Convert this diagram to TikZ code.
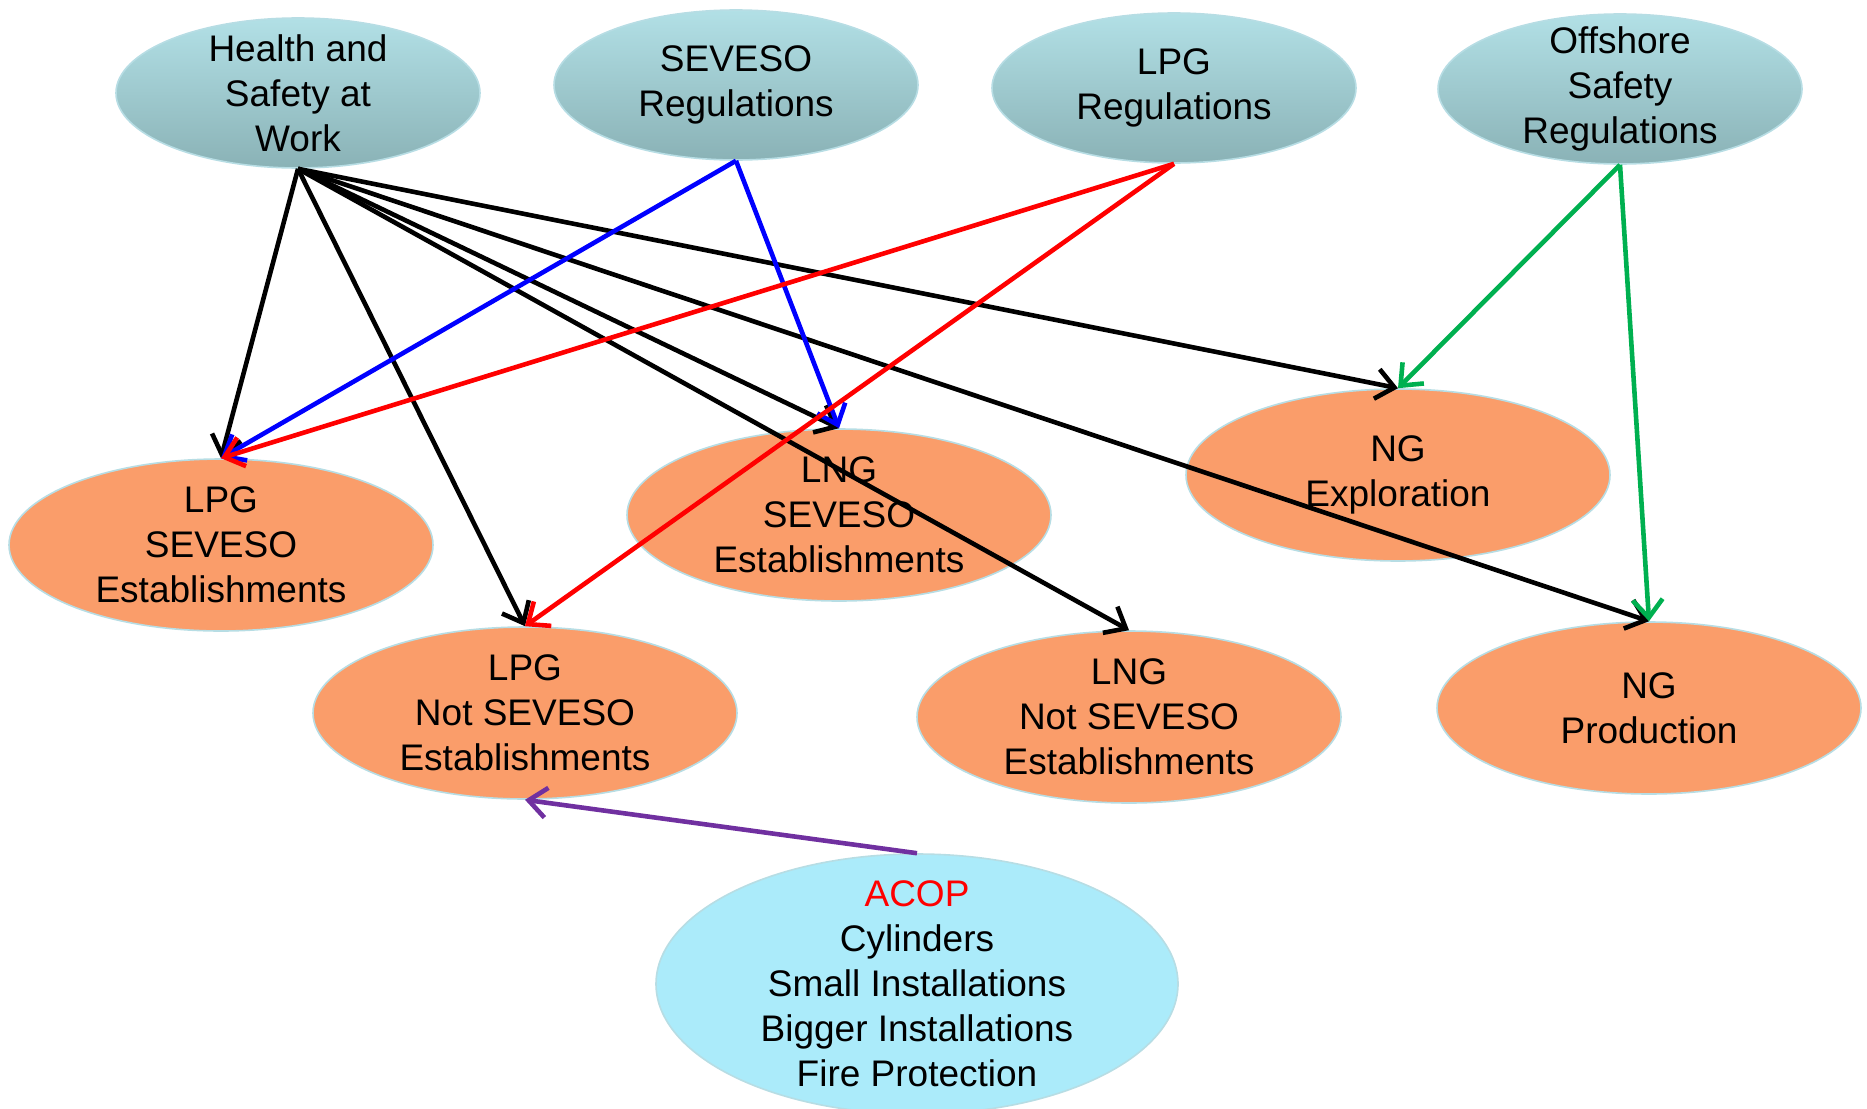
\documentclass[tikz,border=0pt]{standalone}
\usepackage{fontspec}
\setmainfont{Liberation Sans}
\usetikzlibrary{arrows.meta,shapes.geometric}
\definecolor{regtop}{RGB}{178,224,230}
\definecolor{regbot}{RGB}{138,178,182}
\definecolor{estorange}{RGB}{250,157,106}
\definecolor{acopblue}{RGB}{171,235,250}
\definecolor{rimblue}{RGB}{183,221,228}
\definecolor{lawblue}{RGB}{0,0,255}
\definecolor{lawred}{RGB}{255,0,0}
\definecolor{lawgreen}{RGB}{0,176,80}
\definecolor{lawpurple}{RGB}{112,48,160}

\begin{document}
\begin{tikzpicture}[x=0.5pt,y=-0.5pt,
    regbox/.style={ellipse,draw=rimblue,line width=0.8pt,top color=regtop,bottom color=regbot,
                   minimum width=182pt,minimum height=75pt,inner xsep=-30pt,inner ysep=-30pt,
                   align=center,font=\fontsize{18.5}{22.5}\selectfont},
    estbox/.style={ellipse,draw=rimblue,line width=0.8pt,fill=estorange,
                   minimum width=212pt,minimum height=86pt,inner xsep=-30pt,inner ysep=-30pt,
                   align=center,font=\fontsize{18.5}{22.5}\selectfont},
    acopbox/.style={ellipse,draw=rimblue,line width=0.8pt,fill=acopblue,
                    minimum width=261pt,minimum height=130pt,inner xsep=-30pt,inner ysep=-40pt,
                    align=center,font=\fontsize{18.5}{22.5}\selectfont},
    arrow/.style={-{Straight Barb[length=9pt,width=15pt]},line width=2.3pt}
]
    \useasboundingbox (0,0) rectangle (1867,1108);
    % regulations
    \node[regbox] (hsw) at (298,93) {Health and\\Safety at\\Work};
    \node[regbox] (sevreg) at (736,85) {SEVESO\\Regulations};
    \node[regbox] (lpgreg) at (1174,88) {LPG\\Regulations};
    \node[regbox] (offreg) at (1620,89) {Offshore\\Safety\\Regulations};
    % establishments
    \node[estbox] (lpgsev) at (221,545) {LPG\\SEVESO\\Establishments};
    \node[estbox] (lngsev) at (839,515) {LNG\\SEVESO\\Establishments};
    \node[estbox] (ngexp) at (1398,475) {NG\\Exploration};
    \node[estbox] (lpgnot) at (525,713) {LPG\\Not SEVESO\\Establishments};
    \node[estbox] (lngnot) at (1129,717) {LNG\\Not SEVESO\\Establishments};
    \node[estbox] (ngprod) at (1649,708) {NG\\Production};
    % code of practice
    \node[acopbox] (acop) at (917,984) {\textcolor{lawred}{ACOP}\\Cylinders\\Small Installations\\Bigger Installations\\Fire Protection};
    % links
    \draw[arrow] (hsw.south)--(lpgsev.north);
    \draw[arrow] (hsw.south)--(lpgnot.north);
    \draw[arrow] (hsw.south)--(lngsev.north);
    \draw[arrow] (hsw.south)--(lngnot.north);
    \draw[arrow] (hsw.south)--(ngexp.north);
    \draw[arrow] (hsw.south)--(ngprod.north);
    \draw[arrow,lawblue] (sevreg.south)--(lpgsev.north);
    \draw[arrow,lawblue] (sevreg.south)--(lngsev.north);
    \draw[arrow,lawred] (lpgreg.south)--(lpgsev.north);
    \draw[arrow,lawred] (lpgreg.south)--(lpgnot.north);
    \draw[arrow,lawgreen] (offreg.south)--(ngexp.north);
    \draw[arrow,lawgreen] (offreg.south)--(ngprod.north);
    \draw[arrow,lawpurple] (acop.north)--(lpgnot.south);
\end{tikzpicture}
\end{document}
